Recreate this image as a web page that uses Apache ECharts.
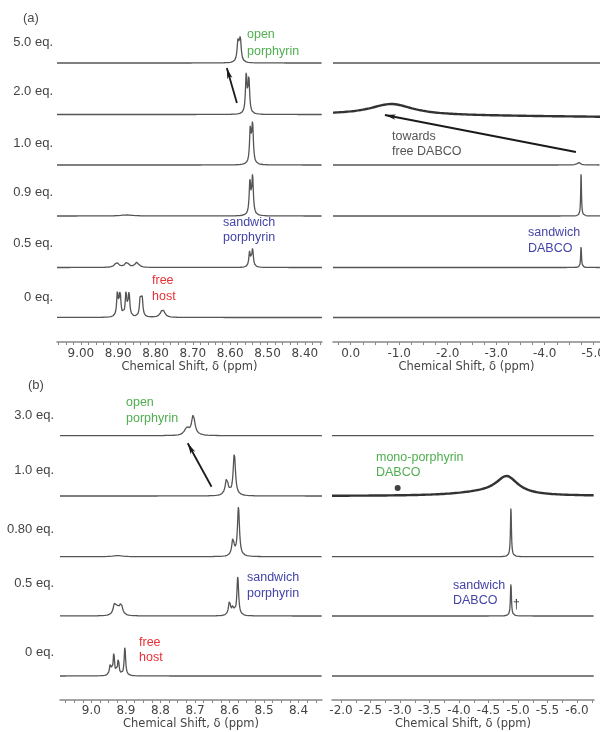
<!DOCTYPE html>
<html><head><meta charset="utf-8">
<script src="https://cdn.jsdelivr.net/npm/echarts@6/dist/echarts.min.js"></script>
<style>html,body{margin:0;padding:0;background:#fff}#c{width:600px;height:732px}</style>
</head><body><div id="c"></div>
<script>
// ================= DATA =================
const equivA = ['5.0 eq.', '2.0 eq.', '1.0 eq.', '0.9 eq.', '0.5 eq.', '0 eq.'];
const equivB = ['3.0 eq.', '1.0 eq.', '0.80 eq.', '0.5 eq.', '0 eq.'];

// peaks: [chemical shift (ppm), intensity, FWHM (ppm)]
const peaksA_porphyrin = [
  [[8.579, 20.2, 0.006], [8.573, 22.7, 0.006]],
  [[8.557, 38.5, 0.005], [8.550, 35, 0.005]],
  [[8.546, 35, 0.005], [8.540, 39, 0.005]],
  [[8.877, 1, 0.04], [8.547, 33.5, 0.005], [8.540, 38, 0.005]],
  [[8.904, 5, 0.012], [8.877, 5, 0.012], [8.850, 5, 0.012], [8.548, 15, 0.005], [8.540, 18, 0.005]],
  [[8.902, 24.3, 0.005], [8.895, 24.3, 0.005], [8.879, 24.3, 0.005], [8.871, 23.5, 0.005],
   [8.841, 18, 0.005], [8.836, 18.5, 0.005], [8.781, 8.5, 0.012]]
];
const peaksA_dabco = [
  [],
  [[-0.84, 11, 1.1]],
  [[-4.70, 2.5, 0.08]],
  [[-4.75, 42, 0.02]],
  [[-4.75, 22, 0.02]],
  []
];
const driftA_dabco = [0, -2.4, 0, 0, 0, 0];   // baseline change across the window

const peaksB_porphyrin = [
  [[8.724, 7, 0.015], [8.705, 20, 0.012]],
  [[8.608, 17, 0.010], [8.586, 42, 0.008]],
  [[8.924, 1.2, 0.03], [8.590, 17, 0.008], [8.574, 49, 0.007]],
  [[8.933, 10.7, 0.010], [8.924, 6.7, 0.010], [8.914, 11.3, 0.010],
   [8.600, 14, 0.007], [8.590, 9, 0.006], [8.576, 39, 0.006]],
  [[8.945, 12, 0.006], [8.935, 22, 0.005], [8.922, 17, 0.005], [8.903, 29, 0.005]]
];
const peaksB_dabco = [
  [],
  [[-4.81, 18, 0.45], [-4.40, 3, 1.2]],
  [[-4.88, 49, 0.02]],
  [[-4.88, 34, 0.02]],
  []
];
const monoDabcoDot = {ppm: -2.96, height: 8};  // black dot on the 1.0 eq. trace

const tickLabelsA_porphyrin = [9.00, 8.90, 8.80, 8.70, 8.60, 8.50, 8.40];
const tickLabelsA_dabco = [0.0, -1.0, -2.0, -3.0, -4.0, -5.0];
const tickLabelsB_porphyrin = [9.0, 8.9, 8.8, 8.7, 8.6, 8.5, 8.4];
const tickLabelsB_dabco = [-2.0, -2.5, -3.0, -3.5, -4.0, -4.5, -5.0, -5.5, -6.0];

// ================= LAYOUT =================
const GRIDS = [
  {left: 57,  top: 20,  width: 265, height: 322, min: 8.354, max: 9.064, step: 0.02,  dec: 2, labels: tickLabelsA_porphyrin, margin: 6},
  {left: 333, top: 20,  width: 267, height: 322, min: -5.14, max: 0.365, step: 0.25,  dec: 1, labels: tickLabelsA_dabco, margin: 6},
  {left: 60,  top: 380, width: 262, height: 320, min: 8.332, max: 9.091, step: 0.025, dec: 1, labels: tickLabelsB_porphyrin, margin: 5},
  {left: 332, top: 380, width: 262, height: 320, min: -6.288, max: -1.847, step: 0.25, dec: 1, labels: tickLabelsB_dabco, margin: 5}
];
const baseA = [279, 227.5, 177, 126, 74.5, 24.5];
const baseB = [264.3, 204, 143.3, 84, 24];
const thickTraces = {'1-1': true, '3-1': true};

const ARROWS = [
  {grid: 0, from: [8.582, 239], to: [8.609, 274]},
  {grid: 1, from: [-4.644, 190], to: [-0.705, 227]},
  {grid: 2, from: [8.652, 213.3], to: [8.721, 256.7]}
];

const GREEN = '#4fae4f', BLUE = '#4444a8', RED = '#e83038', GREY = '#4a4a4a';
const TEXTS = [
  ['(a)', 23, 18, GREY, 13, 'left'],
  ['(b)', 28, 385, GREY, 13, 'left'],
  ['open', 247, 35, GREEN, 12.5, 'left'], ['porphyrin', 247, 52, GREEN, 12.5, 'left'],
  ['towards', 392, 137, '#555', 12.5, 'left'], ['free DABCO', 392, 152, '#555', 12.5, 'left'],
  ['sandwich', 223, 223, BLUE, 12.5, 'left'], ['porphyrin', 223, 238, BLUE, 12.5, 'left'],
  ['free', 152, 281, RED, 12.5, 'left'], ['host', 152, 297, RED, 12.5, 'left'],
  ['sandwich', 528, 233, BLUE, 12.5, 'left'], ['DABCO', 528, 249, BLUE, 12.5, 'left'],
  ['open', 126, 403, GREEN, 12.5, 'left'], ['porphyrin', 126, 419, GREEN, 12.5, 'left'],
  ['sandwich', 247, 578, BLUE, 12.5, 'left'], ['porphyrin', 247, 594, BLUE, 12.5, 'left'],
  ['free', 139, 643, RED, 12.5, 'left'], ['host', 139, 658, RED, 12.5, 'left'],
  ['mono-porphyrin', 376, 458, GREEN, 12.5, 'left'], ['DABCO', 376, 473, GREEN, 12.5, 'left'],
  ['sandwich', 453, 586, BLUE, 12.5, 'left'], ['DABCO', 453, 601, BLUE, 12.5, 'left'],
  ['\u2020', 513, 605, '#333', 12, 'left']
];
const ROW_Y_A = [42, 91, 143, 192, 243, 297];
const ROW_Y_B = [415, 470, 529, 583, 652];

// ================= BUILD =================
function ticks(min, max, step) {
  const a = []; const s = Math.ceil(min / step - 1e-9), e = Math.floor(max / step + 1e-9);
  for (let i = s; i <= e; i++) a.push(+(i * step).toFixed(4));
  return a;
}
function spectrum(peaks, min, max, base, drift, n) {
  const xs = [];
  for (let i = 0; i <= n; i++) xs.push(max - (max - min) * i / n);
  peaks.forEach(p => { if (p[0] > min && p[0] < max) xs.push(p[0]); });
  xs.sort((a, b) => b - a);
  return xs.map(x => {
    let y = base + drift * (max - x) / (max - min);
    for (const [c, h, w] of peaks) { const d = (x - c) / (w / 2); y += h / (1 + d * d); }
    return [x, y];
  });
}

const grid = [], xAxis = [], yAxis = [], series = [];
GRIDS.forEach((g, i) => {
  grid.push({left: g.left, top: g.top, width: g.width, height: g.height,
    containLabel: false, outerBoundsMode: 'none'});
  xAxis.push({
    type: 'value', gridIndex: i, inverse: true, min: g.min, max: g.max,
    name: 'Chemical Shift, \u03b4 (ppm)', nameLocation: 'middle', nameGap: 18,
    nameTextStyle: {fontFamily: 'DejaVu Sans', fontSize: 11.5, color: '#444'},
    axisLine: {show: true, onZero: false, lineStyle: {color: '#888', width: 1.5}},
    axisTick: {show: true, length: 3, customValues: ticks(g.min, g.max, g.step), lineStyle: {color: '#888', width: 1}},
    axisLabel: {customValues: g.labels, margin: g.margin, formatter: v => (+v).toFixed(g.dec),
      hideOverlap: false, fontFamily: 'DejaVu Sans', fontSize: 12, color: '#444'},
    splitLine: {show: false}
  });
  yAxis.push({type: 'value', gridIndex: i, min: 0, max: g.height, show: false});
});

function addTraces(gi, peaksList, bases, drifts) {
  const g = GRIDS[gi];
  peaksList.forEach((pk, k) => {
    const thick = thickTraces[gi + '-' + k];
    series.push({
      type: 'line', xAxisIndex: gi, yAxisIndex: gi, showSymbol: false, symbol: 'none',
      silent: true, animation: false,
      data: spectrum(pk, g.min, g.max, bases[k], drifts ? drifts[k] : 0, 3000),
      lineStyle: {color: thick ? '#333' : '#555', width: thick ? 2.4 : 1.3}
    });
  });
}
addTraces(0, peaksA_porphyrin, baseA);
addTraces(1, peaksA_dabco, baseA, driftA_dabco);
addTraces(2, peaksB_porphyrin, baseB);
addTraces(3, peaksB_dabco, baseB);

ARROWS.forEach(a => {
  series.push({
    type: 'line', xAxisIndex: a.grid, yAxisIndex: a.grid, data: [], silent: true, animation: false,
    markLine: {silent: true, animation: false, symbol: ['none', 'arrow'], symbolSize: [4, 11],
      label: {show: false}, lineStyle: {color: '#1a1a1a', width: 1.8, type: 'solid'},
      emphasis: {disabled: true},
      data: [[{coord: a.from}, {coord: a.to}]]}
  });
});

series.push({
  type: 'scatter', xAxisIndex: 3, yAxisIndex: 3, silent: true, animation: false,
  symbolSize: 6, itemStyle: {color: '#111'},
  data: [[monoDabcoDot.ppm, baseB[1] + monoDabcoDot.height]]
});

const graphic = [];
TEXTS.forEach(([t, x, y, c, s, al]) => graphic.push({type: 'text', x, y, silent: true,
  style: {text: t, fill: c, font: s + 'px "Liberation Sans", Arial, sans-serif', textAlign: al, textVerticalAlign: 'middle'}}));
equivA.forEach((t, k) => graphic.push({type: 'text', x: 53, y: ROW_Y_A[k], silent: true,
  style: {text: t, fill: '#444', font: '13px "Liberation Sans", Arial, sans-serif', textAlign: 'right', textVerticalAlign: 'middle'}}));
equivB.forEach((t, k) => graphic.push({type: 'text', x: 54, y: ROW_Y_B[k], silent: true,
  style: {text: t, fill: '#444', font: '13px "Liberation Sans", Arial, sans-serif', textAlign: 'right', textVerticalAlign: 'middle'}}));

const chart = echarts.init(document.getElementById('c'));
chart.setOption({animation: false, backgroundColor: '#fff', grid, xAxis, yAxis, series, graphic});
</script>
</body></html>
